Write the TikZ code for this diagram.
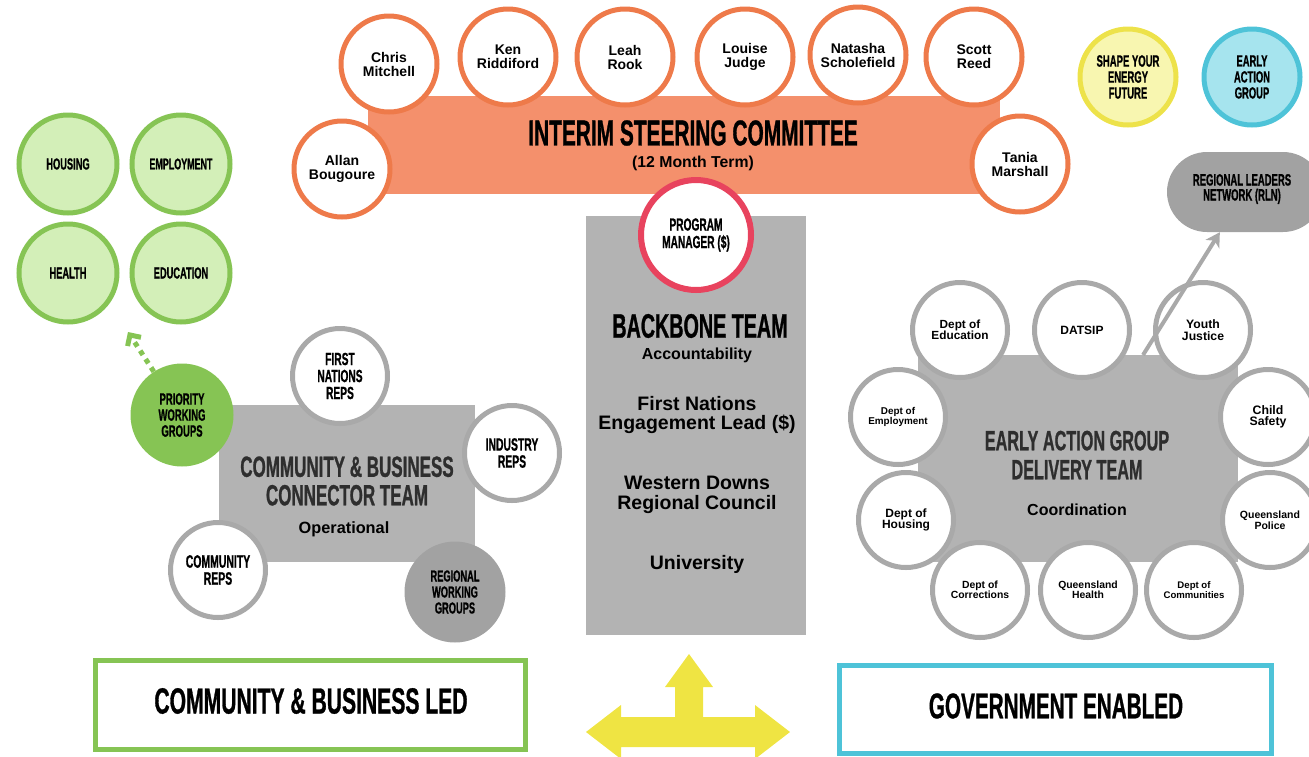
\documentclass[tikz,border=0pt]{standalone}
\usepackage{fontspec}
\setmainfont{Liberation Sans}
\newfontfamily\bebas[FakeStretch=0.58,FakeBold=0.8]{Liberation Sans}
\usetikzlibrary{arrows.meta}
\definecolor{orfill}{HTML}{F4906C}
\definecolor{orline}{HTML}{EE7A4A}
\definecolor{grbox}{HTML}{B3B3B3}
\definecolor{grline}{HTML}{A9A9A9}
\definecolor{grdark}{HTML}{A2A2A2}
\definecolor{gnfill}{HTML}{D3EFB8}
\definecolor{gnline}{HTML}{86C454}
\definecolor{yefill}{HTML}{F8F6B0}
\definecolor{yeline}{HTML}{EDE24A}
\definecolor{blfill}{HTML}{A6E4EE}
\definecolor{blline}{HTML}{4EC3D8}
\definecolor{pkline}{HTML}{E8435E}
\definecolor{arrowyel}{HTML}{EFE443}
\definecolor{headtxt}{HTML}{2E2E2E}
\newcommand{\bb}[2]{\bebas\bfseries\fontsize{#1}{#2}\selectfont}
\newcommand{\hv}[2]{\bfseries\fontsize{#1}{#2}\selectfont}
\tikzset{
  person/.style={circle, draw=orline, fill=white, line width=5pt, minimum size=96pt, inner sep=0pt, align=center, font=\hv{14}{14}},
  member/.style={circle, draw=grline, fill=white, line width=5pt, minimum size=95pt, inner sep=0pt, align=center},
  focus/.style={circle, draw=gnline, fill=gnfill, line width=5pt, minimum size=98pt, inner sep=0pt, align=center, font=\bb{16}{16}},
  teambox/.style={fill=grbox, inner sep=0pt},
  headtext/.style={text=headtxt, align=center, inner sep=0pt},
  plain/.style={align=center, inner sep=0pt},
  framebox/.style={draw, fill=white, line width=5pt, inner sep=0pt}
}
\begin{document}
\begin{tikzpicture}[x=1pt,y=-1pt]
\useasboundingbox (0,0) rectangle (1309,756);
% ---------- interim steering committee ----------
\node[fill=orfill, inner sep=0pt, minimum width=632pt, minimum height=98pt] (isc) at (684,145) {};
\node[plain, font=\bb{36}{36}] (isct) at (693,133) {INTERIM STEERING COMMITTEE};
\node[plain, font=\hv{15.8}{16}] (iscs) at (693,163) {(12 Month Term)};
% backbone box
\node[teambox, minimum width=220pt, minimum height=419pt] (bb) at (696,425.5) {};
\node[person] (chris) at (389,64) {Chris\\Mitchell};
\node[person] (ken) at (508,57) {Ken\\Riddiford};
\node[person] (leah) at (625,57) {Leah\\Rook};
\node[person] (louise) at (745,57) {Louise\\Judge};
\node[person] (natasha) at (858,55) {Natasha\\Scholefield};
\node[person] (scott) at (974,57) {Scott\\Reed};
\node[person] (tania) at (1020,164) {Tania\\Marshall};
\node[person] (allan) at (342,169) {Allan\\Bougoure};
% ---------- top right ----------
\node[circle, draw=yeline, fill=yefill, line width=5pt, minimum size=96pt, inner sep=0pt, align=center, font=\bb{16.4}{16}] (syef) at (1128,77) {SHAPE YOUR\\ENERGY\\FUTURE};
\node[circle, draw=blline, fill=blfill, line width=5pt, minimum size=96pt, inner sep=0pt, align=center, font=\bb{16.2}{16}] (eagc) at (1252,77) {EARLY\\ACTION\\GROUP};
\node[fill=grdark, rounded corners=40pt, minimum width=156pt, minimum height=80pt, inner sep=0pt] (rln) at (1245,192) {};
\node[plain, font=\bb{16.4}{15}] (rlnt) at (1242,189) {REGIONAL LEADERS\\NETWORK (RLN)};
% ---------- backbone texts ----------
\node[circle, draw=pkline, fill=white, line width=6pt, minimum size=110pt, inner sep=0pt, align=center, font=\bb{17.5}{17.5}] (pm) at (696,235) {PROGRAM\\MANAGER (\$)};
\node[plain, font=\bb{34}{34}] (bbt) at (700,326) {BACKBONE TEAM};
\node[plain, font=\hv{16}{16}] (acc) at (697,355) {Accountability};
\node[plain, font=\hv{19.5}{19.5}] (fnel) at (697,415) {First Nations\\Engagement Lead (\$)};
\node[plain, font=\hv{19.5}{19.5}] (wdrc) at (697,495) {Western Downs\\Regional Council};
\node[plain, font=\hv{19.5}{19.5}] (uni) at (697,564) {University};
% ---------- left focus areas ----------
\node[focus] (housing) at (68,164) {HOUSING};
\node[focus, font=\bb{15.4}{16}] (employment) at (181,164) {EMPLOYMENT};
\node[focus] (health) at (68,273) {HEALTH};
\node[focus] (education) at (181,273) {EDUCATION};
% ---------- community & business connector team ----------
\node[teambox, minimum width=256pt, minimum height=157pt] (cbt) at (347,483.5) {};
\node[headtext, font=\bb{29.3}{28.5}] (cbtt) at (347,481) {COMMUNITY \& BUSINESS\\CONNECTOR TEAM};
\node[plain, font=\hv{16.3}{16}] (oper) at (344,529) {Operational};
\node[circle, fill=gnline, minimum size=103pt, inner sep=0pt, align=center, font=\bb{16.4}{16}] (pwg) at (182,415) {PRIORITY\\WORKING\\GROUPS};
\node[member, font=\bb{17.6}{17}] (fnr) at (340,376) {FIRST\\NATIONS\\REPS};
\node[member, font=\bb{17.9}{17}] (ind) at (512,453) {INDUSTRY\\REPS};
\node[member, font=\bb{18}{17}] (comr) at (218,570) {COMMUNITY\\REPS};
\node[circle, fill=grdark, minimum size=101pt, inner sep=0pt, align=center, font=\bb{16}{16}] (rwg) at (455,592) {REGIONAL\\WORKING\\GROUPS};
\coordinate (pwgtip) at (128,332);
\draw[gnline, line width=5pt, dash pattern=on 5pt off 5pt, -{Straight Barb[length=8pt,width=16pt,line width=5pt]}] (pwg) -- (pwgtip);
% ---------- early action group delivery team ----------
\node[teambox, minimum width=320pt, minimum height=207pt] (eag) at (1078,458.5) {};
\node[headtext, font=\bb{28}{29}] (eagt) at (1077,455) {EARLY ACTION GROUP\\DELIVERY TEAM};
\node[plain, font=\hv{16}{16}] (coord) at (1077,510) {Coordination};
\node[member, font=\hv{11.8}{11.5}] (dedu) at (960,330) {Dept of\\Education};
\node[member, font=\hv{12}{12}] (datsip) at (1082,330) {DATSIP};
\node[member, font=\hv{12.2}{11.5}] (yj) at (1203,330) {Youth\\Justice};
\node[member, font=\hv{9.9}{10}] (demp) at (898,417) {Dept of\\Employment};
\node[member, font=\hv{12.3}{11.5}] (cs) at (1268,417) {Child\\Safety};
\node[member, font=\hv{12}{11.5}] (dhou) at (906,520) {Dept of\\Housing};
\node[member, font=\hv{10.5}{10.5}] (qp) at (1270,520) {Queensland\\Police};
\node[member, font=\hv{10.4}{10.5}] (dcor) at (980,590) {Dept of\\Corrections};
\node[member, font=\hv{10.4}{10.5}] (qh) at (1088,590) {Queensland\\Health};
\node[member, font=\hv{9.6}{10.5}] (dcom) at (1194,590) {Dept of\\Communities};
\coordinate (rlnfrom) at (1143,355);
\draw[grline, line width=4pt, -{Stealth[length=14pt,width=16pt,inset=4pt]}] (rlnfrom) -- (rln);
% ---------- bottom ----------
\node[framebox, draw=gnline, minimum width=430pt, minimum height=89pt] (cbl) at (310.5,705) {};
\node[plain, font=\bb{36.4}{36}] (cblt) at (311,701) {COMMUNITY \& BUSINESS LED};
\node[framebox, draw=blline, minimum width=432pt, minimum height=88pt] (ge) at (1055.5,709.5) {};
\node[plain, font=\bb{35.7}{36}] (get) at (1056,706) {GOVERNMENT ENABLED};
\fill[arrowyel] (689,654) -- (713,687) -- (703,687) -- (703,717) -- (755,717) -- (755,705) -- (790,732)
  -- (755,759) -- (755,747) -- (621,747) -- (621,759) -- (586,732) -- (621,705) -- (621,717)
  -- (675,717) -- (675,687) -- (665,687) -- cycle;
\end{tikzpicture}
\end{document}
